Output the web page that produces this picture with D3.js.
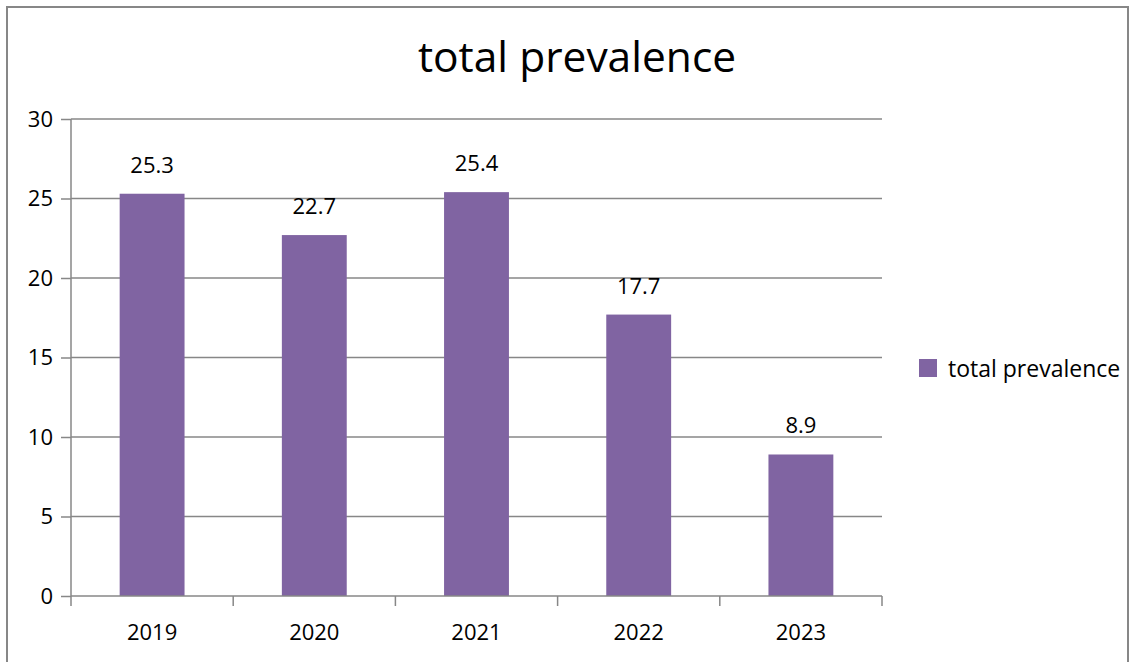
<!DOCTYPE html>
<html>
<head>
<meta charset="utf-8">
<script src="https://cdn.jsdelivr.net/npm/d3@7"></script>
<style>
  body { margin: 0; background: #fff; }
  text { font-family: "Open Sans", sans-serif; fill: #000; }
</style>
</head>
<body>
<svg id="chart" width="1135" height="662"></svg>
<script>
var years = ["2019", "2020", "2021", "2022", "2023"];
var prevalence = [25.3, 22.7, 25.4, 17.7, 8.9];
var yTicks = [0, 5, 10, 15, 20, 25, 30];
var seriesName = "total prevalence";

var svg = d3.select("#chart");
var margin = {left: 71, top: 119, right: 253, bottom: 66};
var width = +svg.attr("width") - margin.left - margin.right,
    height = +svg.attr("height") - margin.top - margin.bottom;

// outer frame
svg.append("rect")
    .attr("x", 7).attr("y", 7)
    .attr("width", 1121).attr("height", 670)
    .attr("fill", "none")
    .attr("stroke", "#878787")
    .attr("stroke-width", 2);

svg.append("text")
    .attr("x", 577).attr("y", 72)
    .attr("text-anchor", "middle")
    .style("font-size", "42.5px")
    .text(seriesName);

var g = svg.append("g").attr("transform", "translate(" + margin.left + "," + margin.top + ")");

var x = d3.scaleBand().domain(years).range([0, width]).paddingInner(0.6).paddingOuter(0.3);
var xEdge = d3.scaleLinear().domain([0, years.length]).range([0, width]);
var y = d3.scaleLinear().domain([0, 30]).range([height, 0]);

// gridlines
g.selectAll(".grid").data(yTicks.filter(function(d) { return d > 0; }))
  .enter().append("line")
    .attr("x1", 0).attr("x2", width)
    .attr("y1", function(d) { return y(d); }).attr("y2", function(d) { return y(d); })
    .attr("stroke", "#878787").attr("stroke-width", 1.5);

// bars
g.selectAll(".bar").data(prevalence)
  .enter().append("rect")
    .attr("x", function(d, i) { return x(years[i]); })
    .attr("width", x.bandwidth())
    .attr("y", function(d) { return y(d); })
    .attr("height", function(d) { return height - y(d); })
    .attr("fill", "#8064a2");

// value labels
g.selectAll(".lbl").data(prevalence)
  .enter().append("text")
    .attr("x", function(d, i) { return x(years[i]) + x.bandwidth() / 2; })
    .attr("y", function(d) { return y(d) - 21; })
    .attr("text-anchor", "middle")
    .style("font-size", "22px")
    .text(function(d) { return d.toFixed(1); });

// y axis
var yAxis = g.append("g")
    .call(d3.axisLeft(y).tickValues(yTicks).tickSize(10).tickPadding(8));
yAxis.select(".domain").attr("stroke", "#878787").attr("stroke-width", 1.5).attr("d", "M0," + height + "V0");
yAxis.selectAll(".tick line").attr("stroke", "#878787").attr("stroke-width", 1.5);
yAxis.selectAll(".tick text").style("font-size", "22px").style("font-family", "Open Sans, sans-serif");

// x axis
var xAxisG = g.append("g").attr("transform", "translate(0," + height + ")");
xAxisG.append("line").attr("x1", 0).attr("x2", width).attr("stroke", "#878787").attr("stroke-width", 1.5);
xAxisG.selectAll(".xt").data(d3.range(years.length + 1))
  .enter().append("line")
    .attr("x1", function(d) { return xEdge(d); }).attr("x2", function(d) { return xEdge(d); })
    .attr("y1", 0).attr("y2", 10)
    .attr("stroke", "#878787").attr("stroke-width", 1.5);
xAxisG.selectAll(".xl").data(years)
  .enter().append("text")
    .attr("x", function(d) { return x(d) + x.bandwidth() / 2; })
    .attr("y", 44)
    .attr("text-anchor", "middle")
    .style("font-size", "22px")
    .text(function(d) { return d; });

// legend
var lg = svg.append("g").attr("transform", "translate(919,359)");
lg.append("rect").attr("width", 18).attr("height", 18).attr("fill", "#8064a2");
lg.append("text").attr("x", 29).attr("y", 18).style("font-size", "23px").text(seriesName);
</script>
</body>
</html>
